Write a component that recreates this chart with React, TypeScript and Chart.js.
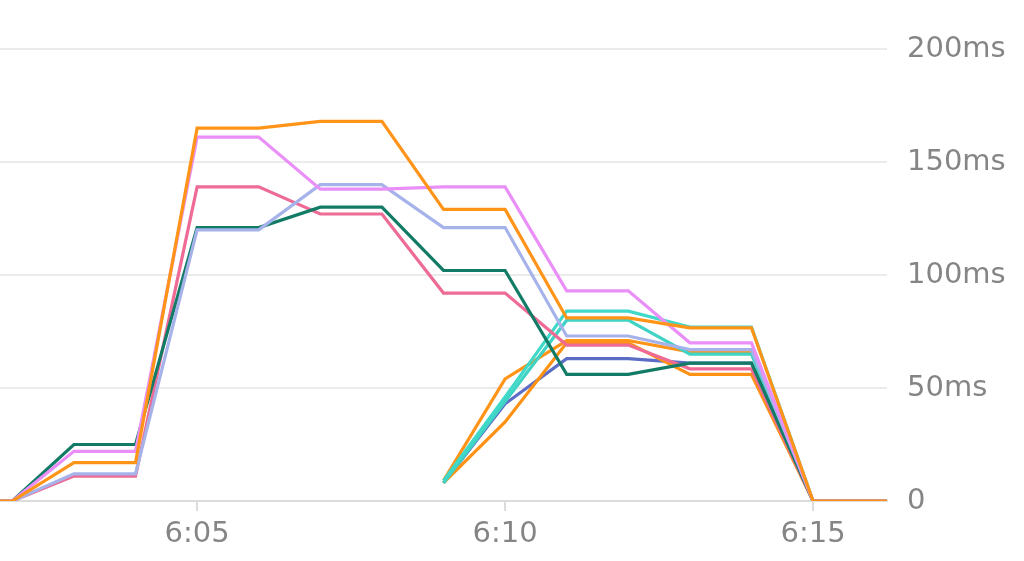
import React, { useEffect, useRef } from "react";
import { Chart, registerables } from "chart.js";

Chart.register(...registerables);

// minutes after 6:00
const minutes = [1, 2, 3, 4, 5, 6, 7, 8, 9, 10, 11, 12, 13, 14, 15, 16, 17];
const xTickValues = [5, 10, 15];
const xTickLabels = ["6:05", "6:10", "6:15"];
const yTickValues = [0, 50, 100, 150, 200];

const orangeA = [0, 0, 17, 17, 165, 165, 168, 168, 129, 129, 81, 81, 76.6, 76.6, 0, 0, 0];
const violet = [0, 0, 22, 22, 161, 161, 138, 138, 139, 139, 93, 93, 70, 70, 0, 0, 0];
const lavender = [0, 0, 12, 12, 120, 120, 140, 140, 121, 121, 73, 73, 67, 67, 0, 0, 0];
const darkGreen = [0, 0, 25, 25, 121, 121, 130, 130, 102, 102, 56, 56, 61, 61, 0, 0, 0];
const pink = [0, 0, 11, 11, 139, 139, 127, 127, 92, 92, 69, 69, 58.5, 58.5, 0, 0, 0];
const cyanA = [null, null, null, null, null, null, null, null, 9, 46, 84, 84, 77, 77, 0, 0, 0];
const cyanB = [null, null, null, null, null, null, null, null, 8, 44, 80, 80, 65, 65, 0, 0, 0];
const orangeB = [null, null, null, null, null, null, null, null, 9, 54, 71, 71, 66, 66, 0, 0, 0];
const orangeC = [null, null, null, null, null, null, null, null, 8, 35, 70, 70, 56, 56, 0, 0, 0];
const indigo = [null, null, null, null, null, null, null, null, 8, 43, 63, 63, 61, 61, 0, 0, 0];

const seriesList = [
  { name: "orangeA", values: orangeA, color: "#ff9419" },
  { name: "violet", values: violet, color: "#e98ff7" },
  { name: "lavender", values: lavender, color: "#a6b2ea" },
  { name: "darkGreen", values: darkGreen, color: "#127b66" },
  { name: "pink", values: pink, color: "#ee6b95" },
  { name: "cyanA", values: cyanA, color: "#40d8c8" },
  { name: "cyanB", values: cyanB, color: "#3ed3c4" },
  { name: "orangeB", values: orangeB, color: "#ff9419" },
  { name: "orangeC", values: orangeC, color: "#ff9214" },
  { name: "indigo", values: indigo, color: "#5d6cc4" },
];

export default function App() {
  const ref = useRef<HTMLCanvasElement | null>(null);
  useEffect(() => {
    if (!ref.current) return;
    const font = { family: "'DejaVu Sans', sans-serif", size: 29, weight: "normal" as any };
    const chart = new Chart(ref.current, {
      type: "line",
      data: {
        datasets: seriesList.map((s) => ({
          label: s.name,
          data: minutes.map((m, i) => ({ x: m, y: s.values[i] as any })),
          borderColor: s.color,
          backgroundColor: s.color,
          borderWidth: 3.2,
          pointRadius: 0,
          tension: 0,
          fill: false,
          spanGaps: false,
        })),
      },
      options: {
        animation: false,
        responsive: true,
        maintainAspectRatio: false,
        layout: { padding: { top: 49, left: 0, right: 0, bottom: 0 } },
        plugins: { legend: { display: false }, tooltip: { enabled: false }, title: { display: false } },
        scales: {
          x: {
            type: "linear",
            min: 1.8,
            max: 16.2,
            afterBuildTicks: (scale: any) => {
              scale.ticks = xTickValues.map((v) => ({ value: v }));
            },
            afterFit: (scale: any) => {
              scale.height = 60;
            },
            ticks: {
              autoSkip: false,
              maxRotation: 0,
              padding: 6,
              color: "#858585",
              font,
              callback: (v: any) => {
                const i = xTickValues.indexOf(Number(v));
                return i >= 0 ? xTickLabels[i] : "";
              },
            },
            grid: { drawOnChartArea: false, drawTicks: true, tickLength: 10, color: "#dcdcdc", lineWidth: 2 },
            border: { display: true, color: "#dcdcdc", width: 2 },
          },
          y: {
            position: "right",
            min: 0,
            max: 200,
            afterBuildTicks: (scale: any) => {
              scale.ticks = yTickValues.map((v) => ({ value: v }));
            },
            afterFit: (scale: any) => {
              scale.width = 137;
            },
            ticks: {
              padding: 20,
              color: "#858585",
              font,
              callback: (v: any) => (Number(v) === 0 ? "0" : v + "ms"),
            },
            grid: { drawTicks: false, color: "#ebebeb", lineWidth: 2 },
            border: { display: false },
          },
        },
      },
    });
    return () => chart.destroy();
  }, []);
  return (
    <div style={{ position: "fixed", left: 0, top: 0, width: 1024, height: 561, background: "#fff" }}>
      <canvas ref={ref} />
    </div>
  );
}
